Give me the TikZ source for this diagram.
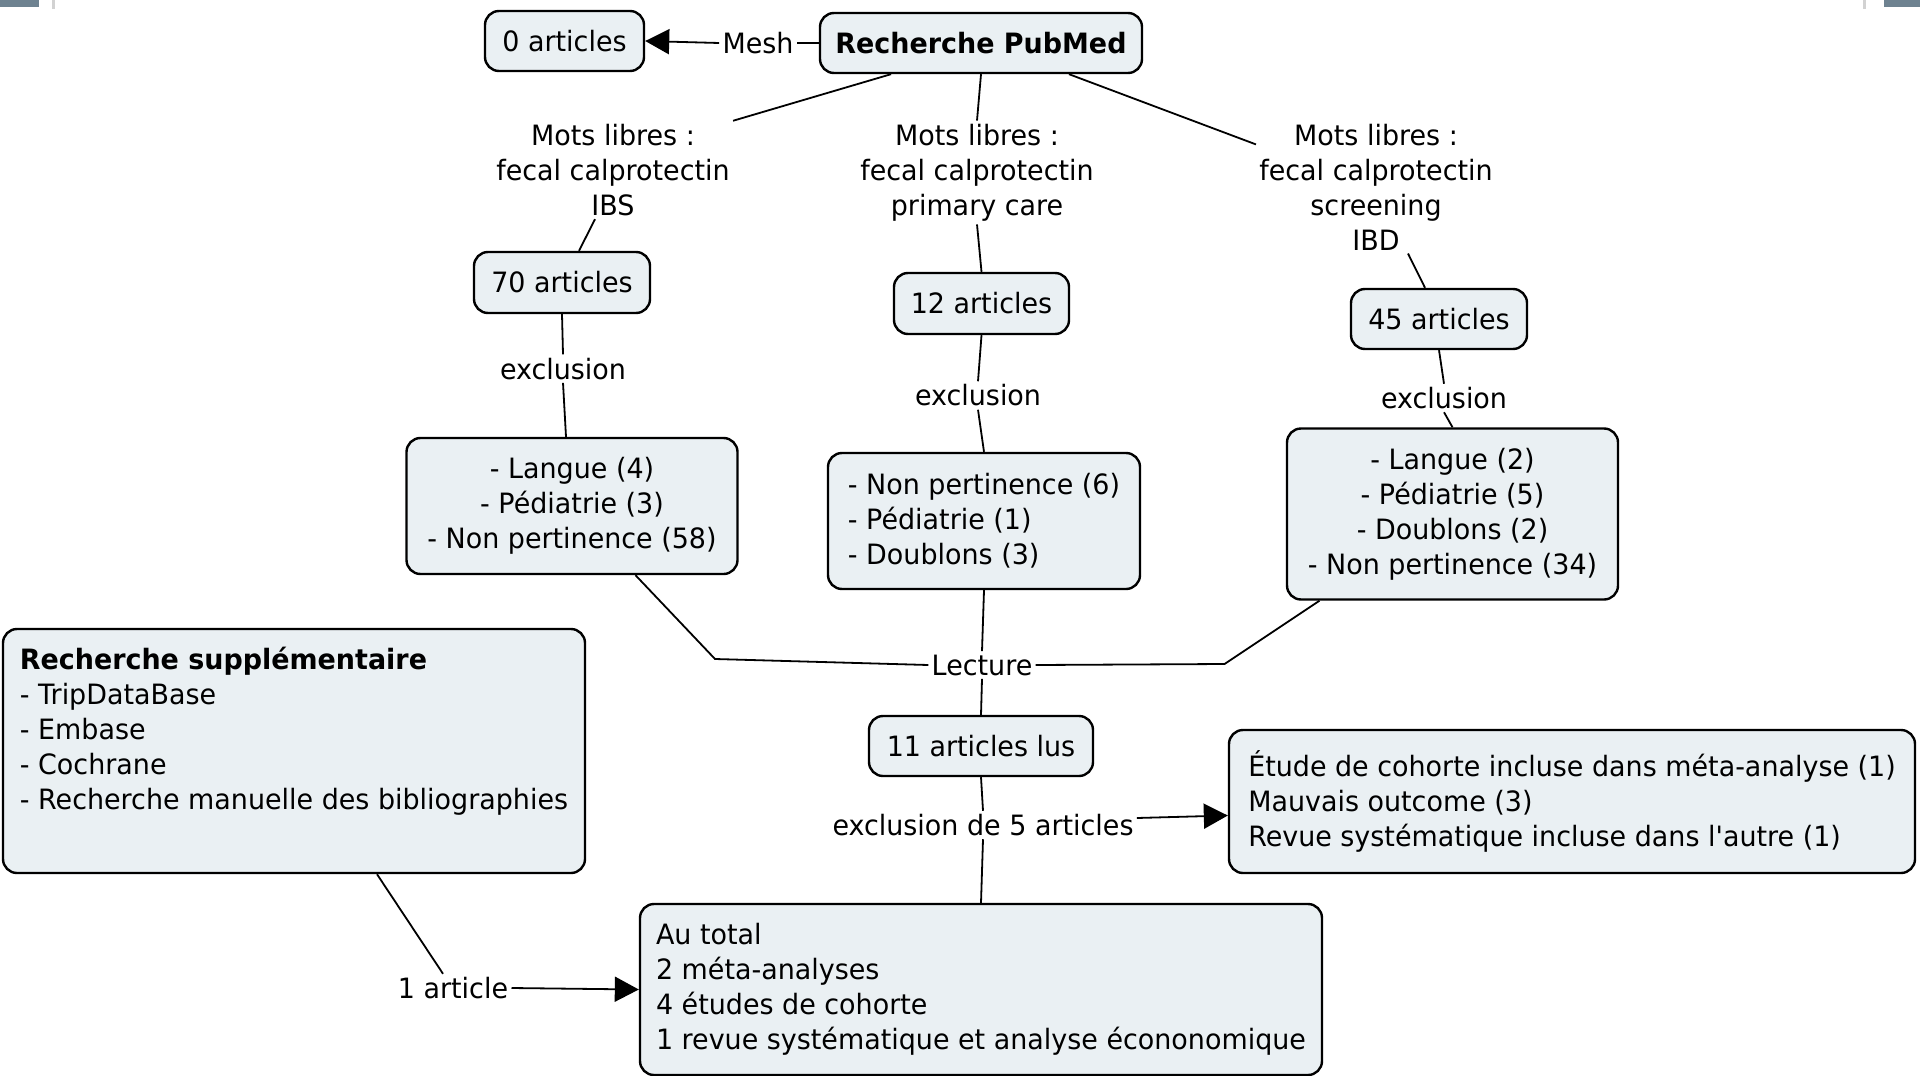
\documentclass[tikz,border=0pt]{standalone}
\usepackage{fontspec}
\setmainfont{DejaVu Sans}[FakeStretch=0.962,Ligatures=TeXOff]
\usetikzlibrary{arrows.meta,calc}
\definecolor{boxfill}{RGB}{234,240,243}
\definecolor{framegray}{RGB}{110,130,144}
\begin{document}
\begin{tikzpicture}[x=0.5pt,y=-0.5pt,
  every node/.style={font=\fontsize{14pt}{17.5pt}\selectfont, text=black},
  concept/.style={draw=black, line width=1.2pt, fill=boxfill, rounded corners=7pt, inner sep=0pt, align=center},
  lbl/.style={inner sep=1.5pt, align=center},
  conn/.style={line width=0.9pt},
  arr/.style={conn, -{Triangle[length=12pt,width=12.5pt]}}]
\useasboundingbox (0,0) rectangle (1920,1075);
\fill[white] (0,0) rectangle (1920,1075);
% slide frame remnants
\fill[framegray] (0,0) rectangle (39,7);
\fill[gray!35] (52,0) rectangle (55,9);
\fill[framegray] (1884,0) rectangle (1920,7);
\fill[gray!35] (1863,0) rectangle (1866,9);

% concepts
\node[concept, minimum width=79.5pt, minimum height=30pt] (zero) at (564.5,41) {0 articles};
\node[concept, minimum width=161pt, minimum height=30pt] (pubmed) at (981,43) {\bfseries Recherche PubMed};
\node[concept, minimum width=88pt, minimum height=30.5pt] (n70) at (562,282.5) {70 articles};
\node[concept, minimum width=87.5pt, minimum height=30.5pt] (n12) at (981.5,303.5) {12 articles};
\node[concept, minimum width=88pt, minimum height=30pt] (n45) at (1439,319) {45 articles};
\node[concept, minimum width=165.5pt, minimum height=68pt] (e1) at (572,506) {- Langue (4)\\- Pédiatrie (3)\\- Non pertinence (58)};
\node[concept, align=left, minimum width=156pt, minimum height=68pt] (e2) at (984,521) {- Non pertinence (6)\\- Pédiatrie (1)\\- Doublons (3)};
\node[concept, minimum width=165.5pt, minimum height=85.5pt] (e3) at (1452.5,514) {- Langue (2)\\- Pédiatrie (5)\\- Doublons (2)\\- Non pertinence (34)};
\node[concept, align=left, minimum width=291pt, minimum height=122pt] (supp) at (294,751) {\textbf{Recherche supplémentaire}\\- TripDataBase\\- Embase\\- Cochrane\\- Recherche manuelle des bibliographies\\\strut};
\node[concept, minimum width=112pt, minimum height=30pt] (n11) at (981,746) {11 articles lus};
\node[concept, align=left, minimum width=343pt, minimum height=71.5pt] (rbox) at (1572,801.5) {Étude de cohorte incluse dans méta-analyse (1)\\Mauvais outcome (3)\\Revue systématique incluse dans l'autre (1)};
\node[concept, align=left, minimum width=341pt, minimum height=85.5pt] (tot) at (981,989.5) {Au total\\2 méta-analyses\\4 études de cohorte\\1 revue systématique et analyse écononomique};

% linking phrases
\node[lbl] (mesh) at (758,43) {Mesh};
\node[lbl] (L1) at (613,170) {Mots libres :\\fecal calprotectin\\IBS};
\node[lbl] (L2) at (977,172.5) {Mots libres :\\fecal calprotectin\\primary care};
\node[lbl] (L3) at (1376,187) {Mots libres :\\fecal calprotectin\\screening\\IBD};
\node[lbl] (x1) at (563,368.6) {exclusion};
\node[lbl] (x2) at (978,395.5) {exclusion};
\node[lbl] (x3) at (1444,398) {exclusion};
\node[lbl] (lect) at (982,665) {Lecture};
\node[lbl] (x5) at (983,825) {exclusion de 5 articles};
\node[lbl] (one) at (453,988) {1 article};

\coordinate (b1) at (715,659);
\coordinate (b2) at (1224.5,664);

% connectors
\draw[conn] (pubmed.west) -- (mesh.east);
\draw[arr] (mesh.west) -- (zero.east);
\draw[conn] ([xshift=-45pt]pubmed.south) -- (L1.north east);
\draw[conn] ([xshift=-9pt]L1.south) -- ([xshift=8.5pt]n70.north);
\draw[conn] (pubmed.south) -- (L2.north);
\draw[conn] (L2.south) -- (n12.north);
\draw[conn] ([xshift=44pt]pubmed.south) -- ($(L3.north west)!0.18!(L3.south west)$);
\draw[conn] ([xshift=16pt]L3.south) -- ([xshift=-7pt]n45.north);
\draw[conn] (n70.south) -- (x1.north);
\draw[conn] (x1.south) -- ([xshift=-3pt]e1.north);
\draw[conn] (n12.south) -- (x2.north);
\draw[conn] (x2.south) -- (e2.north);
\draw[conn] (n45.south) -- (x3.north);
\draw[conn] (x3.south) -- (e3.north);
\draw[conn] ([xshift=31.75pt]e1.south) -- (b1) -- (lect.west);
\draw[conn] ([xshift=-66.5pt]e3.south) -- (b2) -- (lect.east);
\draw[conn] (e2.south) -- (lect.north);
\draw[conn] (lect.south) -- (n11.north);
\draw[conn] (n11.south) -- (x5.north);
\draw[conn] (x5.south) -- (tot.north);
\draw[arr] ([yshift=3.5pt]x5.east) -- ([yshift=-7pt]rbox.west);
\draw[conn] ([xshift=41.5pt]supp.south) -- ([xshift=-5pt]one.north);
\draw[arr] (one.east) -- (tot.west);
\end{tikzpicture}
\end{document}
